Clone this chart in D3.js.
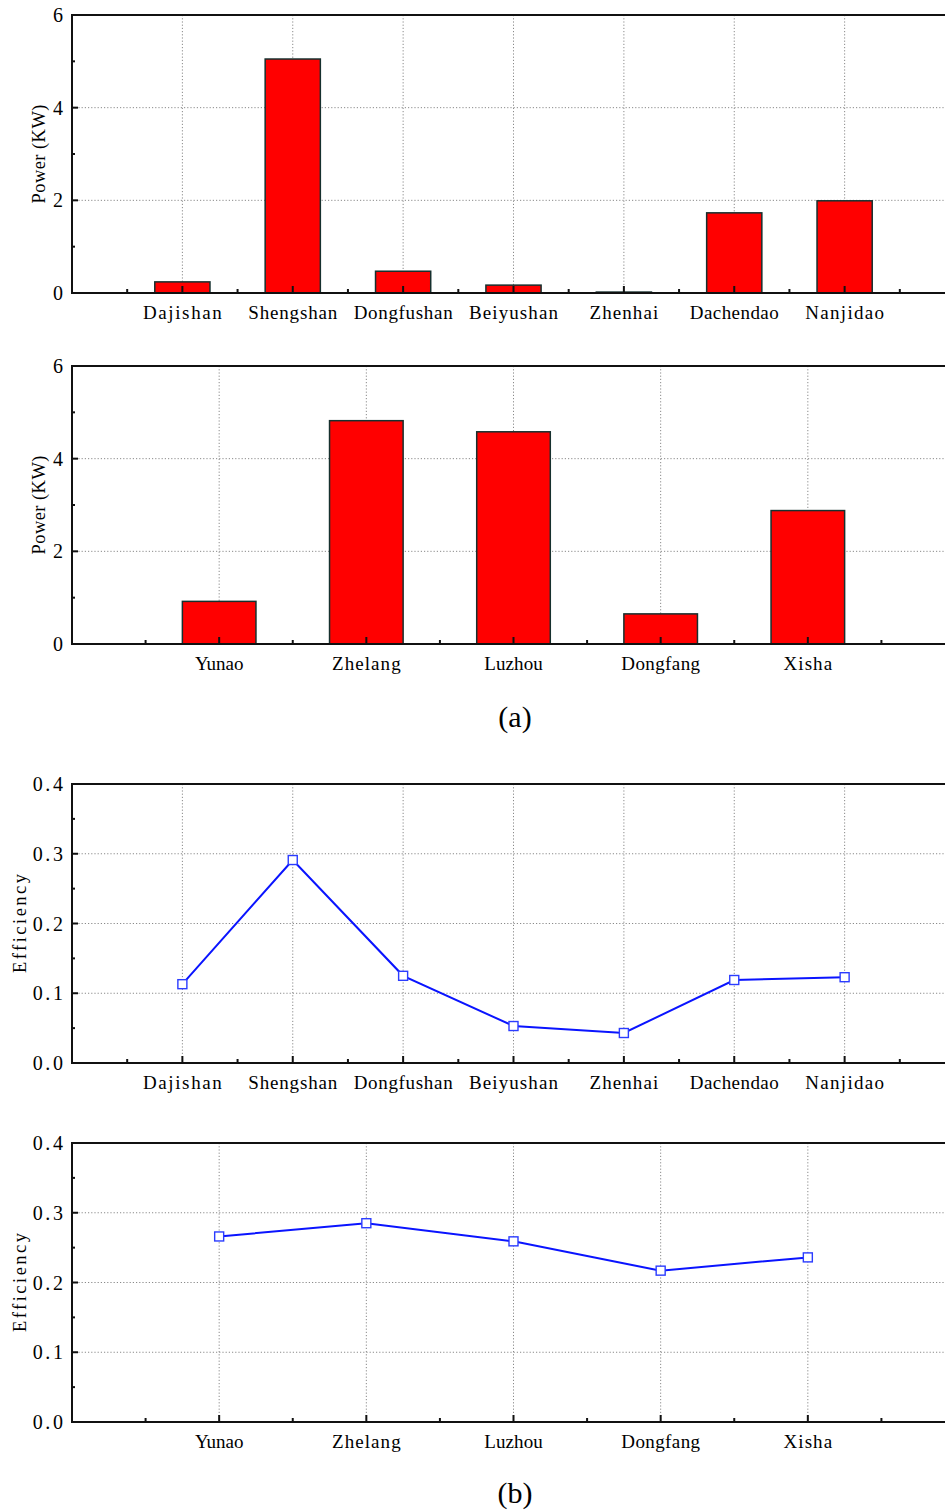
<!DOCTYPE html>
<html>
<head>
<meta charset="utf-8">
<script src="https://cdnjs.cloudflare.com/ajax/libs/d3/7.8.5/d3.min.js"></script>
<style>
  body { margin: 0; background: #fff; }
  svg { display: block; }
  .grid line { stroke: #8a8a8a; stroke-width: 1; stroke-dasharray: 1.2,2; }
  .lbl { font-family: "Liberation Serif", "DejaVu Serif", serif; fill: #000; }
</style>
</head>
<body>
<svg width="945" height="1510"></svg>
<script>

// stations, group 1 and group 2
var sites1 = ["Dajishan", "Shengshan", "Dongfushan", "Beiyushan", "Zhenhai", "Dachendao", "Nanjidao"];
var sites2 = ["Yunao", "Zhelang", "Luzhou", "Dongfang", "Xisha"];

// power (KW)
var power1 = [0.24, 5.05, 0.47, 0.17, 0.02, 1.73, 1.99];
var power2 = [0.92, 4.82, 4.58, 0.65, 2.88];

// efficiency
var eff1 = [0.113, 0.291, 0.125, 0.053, 0.043, 0.119, 0.123];
var eff2 = [0.266, 0.285, 0.259, 0.217, 0.236];

var powerTicks = [0, 2, 4, 6];
var powerMinor = [1, 3, 5];
var effTicks = [0, 0.1, 0.2, 0.3, 0.4];
var effMinor = [0.05, 0.15, 0.25, 0.35];

var svg = d3.select("svg");

var left = 72, right = 955;
var charW = 10.1; // the original font is monospaced, ~10px per glyph

function drawPanel(cfg) {
  var g = svg.append("g");
  var n = cfg.cats.length;

  var x = d3.scaleLinear().domain([-1, n]).range([left, right]);
  var y = d3.scaleLinear().domain(cfg.yDomain).range([cfg.bottom, cfg.top]);
  var idx = d3.range(n);

  // dotted grid
  var grid = g.append("g").attr("class", "grid");
  grid.selectAll(".gy")
      .data(cfg.ticks.slice(1, -1))
      .enter().append("line")
        .attr("x1", left).attr("x2", right)
        .attr("y1", function(d) { return y(d); })
        .attr("y2", function(d) { return y(d); });
  grid.selectAll(".gx")
      .data(idx)
      .enter().append("line")
        .attr("x1", function(d) { return x(d); })
        .attr("x2", function(d) { return x(d); })
        .attr("y1", cfg.top).attr("y2", cfg.bottom);

  if (cfg.type == "bar") {
    var bw = x(0.5) - x(0);
    g.append("g")
      .selectAll("rect")
      .data(idx)
      .enter().append("rect")
        .attr("x", function(i) { return x(i) - bw / 2; })
        .attr("y", function(i) { return y(cfg.values[i]); })
        .attr("width", bw)
        .attr("height", function(i) { return y(0) - y(cfg.values[i]); })
        .attr("fill", "#ff0000")
        .attr("stroke", "#16302e")
        .attr("stroke-width", 1.5);
  } else {
    var line = d3.line()
        .x(function(i) { return x(i); })
        .y(function(i) { return y(cfg.values[i]); });
    g.append("path")
        .attr("d", line(idx))
        .attr("fill", "none")
        .attr("stroke", "#0a14ff")
        .attr("stroke-width", 2);
    g.append("g")
      .selectAll("rect")
      .data(idx)
      .enter().append("rect")
        .attr("x", function(i) { return x(i) - 4.5; })
        .attr("y", function(i) { return y(cfg.values[i]) - 4.5; })
        .attr("width", 9)
        .attr("height", 9)
        .attr("fill", "#fff")
        .attr("stroke", "#2b3cff")
        .attr("stroke-width", 1.4);
  }

  // frame: left, bottom, top
  var frame = g.append("g").attr("stroke", "#111").attr("stroke-width", 2);
  frame.append("line").attr("x1", left).attr("x2", left).attr("y1", cfg.top - 1).attr("y2", cfg.bottom + 1);
  frame.append("line").attr("x1", left).attr("x2", right).attr("y1", cfg.bottom).attr("y2", cfg.bottom);
  frame.append("line").attr("x1", left).attr("x2", right).attr("y1", cfg.top).attr("y2", cfg.top);

  // inward ticks on bottom axis
  g.append("g").selectAll("line")
      .data(idx)
      .enter().append("line")
        .attr("x1", function(d) { return x(d); })
        .attr("x2", function(d) { return x(d); })
        .attr("y1", cfg.bottom).attr("y2", cfg.bottom - 7)
        .attr("stroke", "#111").attr("stroke-width", 2);
  g.append("g").selectAll("line")
      .data(d3.range(-0.5, n, 1))
      .enter().append("line")
        .attr("x1", function(d) { return x(d); })
        .attr("x2", function(d) { return x(d); })
        .attr("y1", cfg.bottom).attr("y2", cfg.bottom - 4)
        .attr("stroke", "#111").attr("stroke-width", 2);

  // inward ticks on left axis
  g.append("g").selectAll("line")
      .data(cfg.ticks)
      .enter().append("line")
        .attr("x1", left).attr("x2", left + 6)
        .attr("y1", function(d) { return y(d); })
        .attr("y2", function(d) { return y(d); })
        .attr("stroke", "#111").attr("stroke-width", 2);
  g.append("g").selectAll("line")
      .data(cfg.minor)
      .enter().append("line")
        .attr("x1", left).attr("x2", left + 3)
        .attr("y1", function(d) { return y(d); })
        .attr("y2", function(d) { return y(d); })
        .attr("stroke", "#111").attr("stroke-width", 2);

  // tick labels
  g.append("g").selectAll("text")
      .data(cfg.ticks)
      .enter().append("text")
        .attr("class", "lbl")
        .attr("x", 63)
        .attr("y", function(d) { return y(d) + 7; })
        .attr("text-anchor", "end")
        .attr("font-size", 20)
        .attr("textLength", function(d) { var s = String(cfg.fmt(d)); return s.length > 1 ? s.length * charW : null; })
        .attr("lengthAdjust", "spacing")
        .text(function(d) { return cfg.fmt(d); });

  g.append("g").selectAll("text")
      .data(idx)
      .enter().append("text")
        .attr("class", "lbl")
        .attr("x", function(i) { return x(i); })
        .attr("y", cfg.bottom + 26)
        .attr("text-anchor", "middle")
        .attr("font-size", 19)
        .attr("textLength", function(i) { return cfg.cats[i].length * charW - 2; })
        .attr("lengthAdjust", "spacing")
        .text(function(i) { return cfg.cats[i]; });

  // y title
  var cy = (cfg.top + cfg.bottom) / 2;
  g.append("text")
      .attr("class", "lbl")
      .attr("transform", "translate(" + cfg.titleX + "," + cy + ") rotate(-90)")
      .attr("text-anchor", "middle")
      .attr("font-size", 18.5)
      .attr("textLength", cfg.title.length * charW - 2)
      .attr("lengthAdjust", "spacing")
      .text(cfg.title);
}

drawPanel({ cats: sites1, values: power1, type: "bar", top: 15, bottom: 293,
  yDomain: [0, 6], ticks: powerTicks, minor: powerMinor, title: "Power (KW)", titleX: 45,
  fmt: function(d) { return d; } });

drawPanel({ cats: sites2, values: power2, type: "bar", top: 366, bottom: 644,
  yDomain: [0, 6], ticks: powerTicks, minor: powerMinor, title: "Power (KW)", titleX: 45,
  fmt: function(d) { return d; } });

drawPanel({ cats: sites1, values: eff1, type: "line", top: 784, bottom: 1063,
  yDomain: [0, 0.4], ticks: effTicks, minor: effMinor, title: "Efficiency", titleX: 26,
  fmt: d3.format(".1f") });

drawPanel({ cats: sites2, values: eff2, type: "line", top: 1143, bottom: 1422,
  yDomain: [0, 0.4], ticks: effTicks, minor: effMinor, title: "Efficiency", titleX: 26,
  fmt: d3.format(".1f") });

svg.append("text")
    .attr("class", "lbl")
    .attr("x", 515).attr("y", 727)
    .attr("text-anchor", "middle")
    .attr("font-size", 30)
    .text("(a)");

svg.append("text")
    .attr("class", "lbl")
    .attr("x", 515).attr("y", 1503)
    .attr("text-anchor", "middle")
    .attr("font-size", 30)
    .text("(b)");

</script>
</body>
</html>
